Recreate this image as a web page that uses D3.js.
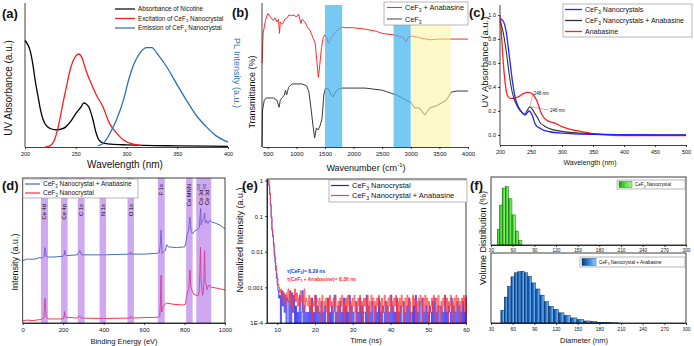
<!DOCTYPE html>
<html>
<head>
<meta charset="utf-8">
<script src="https://cdn.jsdelivr.net/npm/d3@7"></script>
<style>
  body { margin: 0; background: #fff; }
  svg { font-family: Arial, "Liberation Sans", Helvetica, sans-serif; }
</style>
</head>
<body>
<div id="wrapper"></div>
<script>
// ---- (a) absorbance / PL spectra  [wavelength nm, normalised value]
const nicotineAbs = [[200,0.75],[202,0.73],[205,0.68],[208,0.57],[210,0.47],[213,0.35],[215,0.27],[218,0.19],[221,0.15],[225,0.13],[230,0.12],[235,0.125],[240,0.14],[245,0.18],[250,0.235],[255,0.28],[258,0.31],[260,0.305],[263,0.28],[265,0.24],[267,0.19],[270,0.10],[272,0.06],[275,0.035],[278,0.025],[285,0.02],[300,0.015],[350,0.008],[400,0.005]];
const ceExcitation = [[220,0],[225,0.01],[229,0.05],[232,0.12],[235,0.22],[238,0.33],[241,0.43],[244,0.53],[247,0.6],[250,0.64],[253,0.655],[256,0.63],[260,0.54],[265,0.45],[270,0.37],[277,0.28],[283,0.17],[290,0.1],[297,0.05],[307,0.02],[315,0.01]];
const ceEmission = [[272,0.01],[277,0.025],[284,0.1],[290,0.19],[297,0.33],[302,0.47],[307,0.58],[313,0.66],[320,0.7],[325,0.7],[331,0.65],[340,0.56],[349,0.45],[359,0.33],[369,0.22],[379,0.14],[388,0.08],[400,0.035]];
const aTicks = [200, 250, 300, 350, 400];

// ---- (b) FTIR  [wavenumber cm-1, transmittance a.u.]
const ftirMix = [[400,59],[420,80],[460,89],[500,94],[550,91.5],[600,89],[630,91],[660,88],[690,90],[705,80],[720,88],[760,86.5],[800,90],[840,91],[870,93],[920,92.5],[960,93],[1000,91.5],[1040,93.5],[1060,90],[1080,87],[1100,90],[1150,88],[1200,84],[1240,82],[1290,77],[1330,73],[1360,60],[1385,49],[1410,58],[1440,70],[1470,77],[1500,79],[1530,77],[1560,73],[1590,75.5],[1620,77.5],[1680,81],[1740,83],[1790,84.5],[1850,84],[2000,84],[2200,83],[2400,81.5],[2500,80],[2700,79],[2800,78],[2870,77],[2920,74],[2950,77],[3000,78],[3050,78],[3200,76.5],[3350,75.5],[3500,76],[3650,76],[4000,76]];
const ftirCe = [[400,0],[410,26],[440,33],[475,34.5],[600,34.5],[660,33],[700,28],[720,33],[760,35],[790,36.6],[810,40],[830,36.6],[865,42],[920,44.4],[1100,44.4],[1180,43],[1220,38.7],[1260,26],[1290,15.5],[1320,6.3],[1350,13.4],[1380,12],[1420,15.5],[1450,20.4],[1480,36.6],[1510,41.5],[1560,40.8],[1600,37.3],[1640,35.2],[1680,38.7],[1740,40.8],[1800,41.5],[2200,41.5],[2500,40],[2750,36.6],[2920,33],[3010,31],[3070,27.5],[3150,27.5],[3245,22.5],[3330,27.5],[3450,29],[3620,33],[3710,38.7],[3800,39.4],[4000,39.4]];
const blueBands = [[1500,1800],[2700,3000]];
const yellowBands = [[3000,3700]];
const bTicks = [500,1000,1500,2000,2500,3000,3500,4000];

// ---- (c) UV-vis  [wavelength nm, absorbance]
const uvCe = [[200,0.97],[205,0.95],[210,0.86],[215,0.66],[220,0.45],[225,0.3],[230,0.23],[235,0.19],[240,0.165],[244,0.185],[247,0.2],[250,0.185],[253,0.15],[256,0.1],[260,0.07],[265,0.055],[270,0.04],[280,0.027],[300,0.015],[350,0.005],[400,0.002],[500,0]];
const uvCeAna = [[200,0.95],[205,0.86],[210,0.7],[215,0.5],[220,0.35],[225,0.27],[230,0.22],[235,0.19],[240,0.175],[244,0.205],[248,0.235],[252,0.215],[256,0.18],[261,0.14],[265,0.1],[270,0.08],[275,0.065],[285,0.045],[300,0.03],[350,0.01],[400,0.003],[500,0]];
const uvAna = [[200,1.0],[202,0.87],[204,0.7],[207,0.5],[210,0.37],[213,0.32],[217,0.305],[222,0.305],[230,0.32],[238,0.345],[245,0.355],[250,0.35],[255,0.325],[260,0.28],[265,0.2],[270,0.15],[275,0.125],[290,0.095],[300,0.07],[315,0.045],[330,0.03],[350,0.012],[375,0],[400,-0.005],[500,-0.005]];
const uvPeaks = [{label: "248 nm", from: [248.5, 0.24], to: [253, 0.35]}, {label: "246 nm", from: [251.5, 0.233], to: [279, 0.208]}];
const cTicksX = [200,250,300,350,400,450,500];
const cTicksY = [0,0.2,0.4,0.6,0.8,1.0];

// ---- (d) XPS  [binding energy eV, intensity a.u.]
const xpsCeAna = [[0,43],[20,44],[40,44],[60,44],[80,45],[100,45],[106,46],[110,52],[113,50],[116,46],[125,45.5],[150,45.5],[200,46],[205,47],[208,50],[211,47],[220,46.5],[270,47],[278,49],[282,50],[288,47.5],[300,47],[400,47],[530,47.5],[533,49],[536,47.5],[600,47.5],[660,48],[675,48.5],[680,54],[684,64],[686,57],[688,48],[695,49],[705,50],[712,54],[720,52.5],[760,52],[800,52.5],[806,54.5],[812,61],[818,63],[823,68],[826,73],[829,68],[833,63],[840,61.5],[850,63.5],[860,64],[868,65],[873,66],[877,74],[880,79],[882,67.5],[886,69.5],[890,71],[895,72],[899,76],[903,69],[908,71],[915,68.5],[925,71],[935,69.5],[950,69],[975,67.5],[1000,65]];
const xpsCe = [[0,1.4],[20,2],[50,1.7],[90,2.4],[105,3.4],[108,12.4],[111,17],[113,12.4],[116,4],[125,2.8],[200,2.8],[205,4.8],[207,8],[210,4],[270,3.4],[280,5],[290,3.4],[400,3.1],[530,3.4],[533,4.8],[536,3.4],[670,4],[678,4.8],[681,16],[684,33],[686,12.4],[688,7.6],[692,11],[700,12.4],[710,13.8],[740,13],[790,12.4],[805,13],[810,18],[815,21.4],[820,23],[824,29.6],[827,36.6],[830,26],[835,23],[845,20],[860,19],[868,19],[872,21.4],[876,36.6],[879,52.4],[882,29.6],[886,22.8],[889,19],[893,22],[896,29.6],[899,50],[902,28],[906,27.5],[911,23],[916,25],[922,26.2],[930,24.8],[960,24],[1000,22.8]];
const xpsBands = [[90,125,"Ce 4d"],[190,222,"Ce 4p"],[272,306,"C 1s"],[380,412,"N 1s"],[518,550,"O 1s"],[668,702,"F 1s"],[808,840,"Ce MNN"],[858,932,""]];
const dTicks = [0,200,400,600,800,1000];

// ---- (e) TRPL decay  [time ns, normalised intensity]; tail as counts x1e-4
const decayT = [7.6,7.8,8.0,8.2,8.4,8.6,8.8,9.0,9.2,9.4,9.6,9.8,10.0,10.2,10.4];
const decayCe = [1.0,0.7,0.4,0.2,0.09,0.04,0.026,0.015,0.008,0.005,0.003,0.0018,0.0012,0.0008,0.0005];
const decayCeAna = [1.0,0.75,0.45,0.22,0.1,0.045,0.03,0.018,0.01,0.007,0.004,0.0025,0.0018,0.0012,0.001];
const tailStart = 10.6, tailStep = 0.25;
const tailCe =    "6183726154181726131216128131212131512161312141213115121312612131412151312161312114121513122161312141131215121321413121613121512131141213151221316121411512131213214151213113121612132151312141312141216";
const tailCeAna = "7958463759483625947353846293543625143625425316243525163425363142536241526314253624153624153526142635142536415236241536242536141526341526354126351425364152635142352641526314253625143624152635241536251";
const eTicksY = [1, 0.1, 0.01, 0.001, 1e-4];
const eTickLabels = ["1", "0.1", "0.01", "0.001", "1E-4"];

// ---- (f) DLS size distribution  [diameter nm, volume %]
const dlsCe = [[40.3,8],[43.4,20.5],[47.5,29.3],[52.1,30],[56.7,23.8],[61.3,15.5],[65.9,7.2],[70.5,2.2]];
const dlsCeAna = [[46,2.5],[50.7,5.1],[55.3,7.2],[60,9.1],[64.6,9.9],[69.2,10.1],[73.8,10.2],[78.4,9.9],[83.5,9.2],[89,7.9],[95,6.7],[100.5,5.5],[106.5,4.2],[113.4,3.3],[120.3,2.7],[127.2,2.0],[135,1.5],[144.3,1.0],[153.5,0.7],[162.7,0.4],[172,0.3],[181,0.15],[191,0.07],[202,0.03]];
const fTicks = [30,60,90,120,150,180,210,240,270,300];

const svg = d3.select("#wrapper").append("svg").attr("width", 694).attr("height", 346);

// text with _{sub} and ^{sup} markup
function rich(t, str) {
  const fs = parseFloat(t.attr("font-size"));
  let shift = 0;
  str.split(/([_^]\{[^}]*\})/).filter(p => p).forEach(p => {
    let off = 0, txt = p, size = fs;
    if (p[0] === "_") { off = fs * 0.28; txt = p.slice(2, -1); size = fs * 0.68; }
    if (p[0] === "^") { off = -fs * 0.4; txt = p.slice(2, -1); size = fs * 0.68; }
    t.append("tspan").attr("dy", off - shift).attr("font-size", size).text(txt);
    shift = off;
  });
  return t;
}

function label(x, y, str, fs, o = {}) {
  const t = svg.append("text").attr("x", x).attr("y", y).attr("font-size", fs)
    .attr("text-anchor", o.anchor || "start").attr("fill", o.fill || "#111");
  if (o.rotate) t.attr("transform", `rotate(${o.rotate},${x},${y})`);
  if (o.bold) t.attr("font-weight", "bold");
  return rich(t, str);
}

function styleAxis(g, fs) {
  g.attr("font-size", fs).attr("font-family", null);
  g.selectAll("path, line").attr("stroke", "#111").attr("stroke-width", 0.8);
  g.selectAll("text").attr("fill", "#111");
}

function drawLine(x, y, data, color, width, curve) {
  svg.append("path")
    .attr("d", d3.line().x(d => x(d[0])).y(d => y(d[1])).curve(curve || d3.curveMonotoneX)(data))
    .attr("fill", "none").attr("stroke", color).attr("stroke-width", width)
    .attr("stroke-linejoin", "round");
}

function legendBox(x, y, w, h) {
  svg.append("rect").attr("x", x).attr("y", y).attr("width", w).attr("height", h)
    .attr("fill", "#fff").attr("stroke", "#999").attr("stroke-width", 0.7);
}

function lineLegend(x, ys, rows, fs, len, lw) {
  rows.forEach((r, i) => {
    svg.append("line").attr("x1", x).attr("x2", x + len).attr("y1", ys[i]).attr("y2", ys[i])
      .attr("stroke", r[0]).attr("stroke-width", lw);
    label(x + len + 3, ys[i] + fs * 0.35, r[1], fs);
  });
}

const plain = d3.format("d");

// ================= (a)
const aX = d3.scaleLinear().domain([200, 400]).range([25, 228]);
const aY = d3.scaleLinear().domain([0, 1]).range([147, 5]);
svg.append("g").attr("transform", "translate(0,147)")
  .call(d3.axisBottom(aX).tickValues(aTicks).tickFormat(plain).tickSize(2).tickSizeOuter(0).tickPadding(3))
  .call(styleAxis, 5.5);
svg.append("line").attr("x1", 25).attr("x2", 25).attr("y1", 3).attr("y2", 147).attr("stroke", "#111").attr("stroke-width", 0.8);
drawLine(aX, aY, nicotineAbs, "#000", 1.3);
drawLine(aX, aY, ceExcitation, "#ff1a1a", 1.3);
drawLine(aX, aY, ceEmission, "#2e6fb5", 1.3);
lineLegend(115, [9, 18.5, 28], [["#000", "Absorbance of Nicotine"], ["#ff1a1a", "Excitation of CeF_{3} Nanocrystal"], ["#2e6fb5", "Emission of CeF_{3} Nanocrystal"]], 6.3, 20, 1.2);
label(12, 88, "UV Absorbance (a.u.)", 10, {anchor: "middle", rotate: -90});
label(125, 168, "Wavelength (nm)", 10, {anchor: "middle"});
label(234, 73, "PL Intensity (a.u.)", 9, {anchor: "middle", rotate: 90, fill: "#2e75b6"});

// ================= (b)
const bX = d3.scaleLinear().domain([400, 4000]).range([262, 468]);
const bY = d3.scaleLinear().domain([0, 100]).range([147, 5]);
drawLine(bX, bY, ftirMix, "#ff2a2a", 1, d3.curveLinear);
drawLine(bX, bY, ftirCe, "#3a3a3a", 1, d3.curveLinear);
blueBands.forEach(b => svg.append("rect").attr("x", bX(b[0])).attr("width", bX(b[1]) - bX(b[0]))
  .attr("y", 5).attr("height", 142).attr("fill", "#48b6f2").attr("opacity", 0.75));
yellowBands.forEach(b => svg.append("rect").attr("x", bX(b[0])).attr("width", bX(b[1]) - bX(b[0]))
  .attr("y", 5).attr("height", 142).attr("fill", "#fbf49a").attr("opacity", 0.55));
svg.append("g").attr("transform", "translate(0,147)")
  .call(d3.axisBottom(bX).tickValues(bTicks).tickFormat(plain).tickSize(2).tickSizeOuter(0).tickPadding(3))
  .call(styleAxis, 6);
svg.append("line").attr("x1", 262).attr("x2", 262).attr("y1", 3).attr("y2", 147).attr("stroke", "#111").attr("stroke-width", 0.8);
legendBox(384, 2, 84, 23);
lineLegend(387, [7.5, 19], [["#ff2a2a", "CeF_{3} + Anabasine"], ["#555", "CeF_{3}"]], 7.3, 15, 1.1);
label(255, 92, "Transmittance (%)", 9, {anchor: "middle", rotate: -90});
label(366, 171, "Wavenumber (cm^{-1})", 9, {anchor: "middle"});

// ================= (c)
const cX = d3.scaleLinear().domain([200, 500]).range([500, 686]);
const cY = d3.scaleLinear().domain([0, 1]).range([135, 15]);
svg.append("g").attr("transform", "translate(0,145)")
  .call(d3.axisBottom(cX).tickValues(cTicksX).tickFormat(plain).tickSize(2).tickSizeOuter(0).tickPadding(3))
  .call(styleAxis, 5.5);
svg.append("g").attr("transform", "translate(500,0)")
  .call(d3.axisLeft(cY).tickValues(cTicksY).tickFormat(d3.format(".1f")).tickSize(2).tickPadding(2))
  .call(styleAxis, 5.5)
  .call(g => g.select(".domain").remove());
svg.append("line").attr("x1", 500).attr("x2", 500).attr("y1", 5).attr("y2", 145).attr("stroke", "#111").attr("stroke-width", 0.8);
drawLine(cX, cY, uvAna, "#ff2020", 1.3);
drawLine(cX, cY, uvCeAna, "#333", 1.1);
drawLine(cX, cY, uvCe, "#2424ff", 1.3);
uvPeaks.forEach(p => {
  svg.append("line").attr("x1", cX(p.from[0])).attr("y1", cY(p.from[1])).attr("x2", cX(p.to[0])).attr("y2", cY(p.to[1]))
    .attr("stroke", "#777").attr("stroke-width", 0.5);
  label(cX(p.to[0]) + 1, cY(p.to[1]) + 1.5, p.label, 4.5);
});
legendBox(563, 4, 129, 33);
lineLegend(565, [9.5, 20.5, 31.5], [["#2424ff", "CeF_{3} Nanocrystals"], ["#333", "CeF_{3} Nanocrystals + Anabasine"], ["#ff2020", "Anabasine"]], 7, 17, 1.3);
label(488, 62, "UV Absorbance (a.u.)", 9.5, {anchor: "middle", rotate: -90});
label(590, 165, "Wavelength (nm)", 7, {anchor: "middle"});

// ================= (d)
const dX = d3.scaleLinear().domain([0, 1000]).range([22.7, 225]);
const dY = d3.scaleLinear().domain([0, 100]).range([323, 178]);
drawLine(dX, dY, xpsCeAna, "#2f5fb0", 0.9, d3.curveLinear);
drawLine(dX, dY, xpsCe, "#ff1838", 0.9, d3.curveLinear);
xpsBands.forEach(b => svg.append("rect").attr("x", dX(b[0])).attr("width", dX(b[1]) - dX(b[0]))
  .attr("y", 178).attr("height", 145).attr("fill", "#a860e8").attr("opacity", 0.55));
xpsBands.forEach((b, i) => {
  if (!b[2]) return;
  label(dX((b[0] + b[1]) / 2) + 2, i < 5 ? 204 : 184, b[2], 5.8, {anchor: "end", rotate: -90});
});
label(dX(880) + 2, 184, "Ce 3d^{5/2}", 5.8, {anchor: "end", rotate: -90});
label(dX(910) + 2, 184, "Ce 3d^{3/2}", 5.8, {anchor: "end", rotate: -90});
svg.append("rect").attr("x", 22.7).attr("y", 178).attr("width", 225 - 22.7).attr("height", 145)
  .attr("fill", "none").attr("stroke", "#111").attr("stroke-width", 0.8);
svg.append("g").attr("transform", "translate(0,323)")
  .call(d3.axisBottom(dX).tickValues(dTicks).tickFormat(plain).tickSize(2).tickSizeOuter(0).tickPadding(3))
  .call(styleAxis, 6);
legendBox(23, 179, 115, 19);
lineLegend(25, [184, 193], [["#2f5fb0", "CeF_{3} Nanocrystal + Anabasine"], ["#ff1838", "CeF_{3} Nanocrystal"]], 6.5, 15, 1.1);
label(18, 262, "Intensity (a.u.)", 9, {anchor: "middle", rotate: -90});
label(124, 344, "Binding Energy (eV)", 7.5, {anchor: "middle"});

// ================= (e)
const eX = d3.scaleLinear().domain([7.3, 60]).range([267, 466]);
const eY = d3.scaleLog().domain([1e-4, 1.1]).range([323, 179]).clamp(true);
function decaySeries(head, tail) {
  const pts = decayT.map((t, i) => [t, head[i]]);
  tail.split("").forEach((c, i) => pts.push([tailStart + i * tailStep, Math.max(+c, 1) * 1e-4]));
  return pts;
}
drawLine(eX, eY, decaySeries(decayCe, tailCe), "#1a1aff", 0.8, d3.curveStepAfter);
drawLine(eX, eY, decaySeries(decayCeAna, tailCeAna), "#ff3838", 0.8, d3.curveStepAfter);
svg.append("rect").attr("x", 267).attr("y", 179).attr("width", 199).attr("height", 144)
  .attr("fill", "none").attr("stroke", "#111").attr("stroke-width", 0.8);
svg.append("g").attr("transform", "translate(0,323)")
  .call(d3.axisBottom(eX).tickValues([10,20,30,40,50,60]).tickSize(2).tickSizeOuter(0).tickPadding(3))
  .call(styleAxis, 6);
svg.append("g").attr("transform", "translate(267,0)")
  .call(d3.axisLeft(eY).tickValues(eTicksY).tickFormat((d, i) => eTickLabels[i]).tickSize(2).tickSizeOuter(0).tickPadding(2))
  .call(styleAxis, 6);
legendBox(329, 180, 138, 22);
lineLegend(331, [185.5, 195.5], [["#1a1aff", "CeF_{3} Nanocrystal"], ["#ff3838", "CeF_{3} Nanocrystal + Anabasine"]], 7.5, 18, 1.2);
label(287, 272.5, "τ(CeF_{3})= 8.29 ns", 5, {fill: "#2a2aff", bold: true});
label(287, 281, "τ(CeF_{3} + Anabasine)= 8.36 ns", 5, {fill: "#ff3030", bold: true});
label(243, 240, "Normalized Intensity (a.u.)", 9, {anchor: "middle", rotate: -90});
label(366, 343, "Time (ns)", 7.5, {anchor: "middle"});

// ================= (f)
const defs = svg.append("defs");
function grad(id, stops) {
  const g = defs.append("linearGradient").attr("id", id).attr("x1", 0).attr("x2", 1).attr("y1", 0).attr("y2", 0);
  stops.forEach(s => g.append("stop").attr("offset", s[0]).attr("stop-color", s[1]));
}
grad("gGreen", [[0, "#1f9a14"], [0.45, "#4fe03a"], [1, "#a8f793"]]);
grad("gBlue", [[0, "#0b3a86"], [0.55, "#3a8be0"], [1, "#8fd7fb"]]);
const fX = d3.scaleLinear().domain([30, 300]).range([491, 686]);
const fYt = d3.scaleLinear().domain([0, 35]).range([245, 177]);
const fYb = d3.scaleLinear().domain([0, 13.8]).range([323, 253]);
function bars(data, y, fill, stroke) {
  data.forEach((d, i) => {
    const prev = data[i - 1] ? data[i - 1][0] : 2 * d[0] - data[i + 1][0];
    const next = data[i + 1] ? data[i + 1][0] : 2 * d[0] - prev;
    const x0 = fX((prev + d[0]) / 2), x1 = fX((d[0] + next) / 2);
    svg.append("rect").attr("x", x0).attr("width", x1 - x0).attr("y", y(d[1])).attr("height", y(0) - y(d[1]))
      .attr("fill", fill).attr("stroke", stroke).attr("stroke-width", 0.5);
  });
}
bars(dlsCe, fYt, "url(#gGreen)", "#145a0c");
bars(dlsCeAna, fYb, "url(#gBlue)", "#0a2350");
[[177, 245], [253, 323]].forEach(r => svg.append("rect").attr("x", 491).attr("y", r[0]).attr("width", 195).attr("height", r[1] - r[0])
  .attr("fill", "none").attr("stroke", "#111").attr("stroke-width", 0.8));
svg.append("g").attr("transform", "translate(0,245)")
  .call(d3.axisBottom(fX).tickValues(fTicks).tickSize(2).tickSizeOuter(0).tickPadding(2))
  .call(styleAxis, 4.8);
svg.append("g").attr("transform", "translate(0,323)")
  .call(d3.axisBottom(fX).tickValues(fTicks).tickSize(2).tickSizeOuter(0).tickPadding(3))
  .call(styleAxis, 4.8);
legendBox(617, 180, 68, 9);
svg.append("rect").attr("x", 619).attr("y", 181.5).attr("width", 13).attr("height", 6).attr("fill", "url(#gGreen)").attr("stroke", "#145a0c").attr("stroke-width", 0.4);
label(635, 186.3, "CeF_{3} Nanocrystal", 4.6);
legendBox(580, 257, 105, 10);
svg.append("rect").attr("x", 582).attr("y", 258.5).attr("width", 14).attr("height", 7).attr("fill", "url(#gBlue)").attr("stroke", "#0a2350").attr("stroke-width", 0.4);
label(599, 263.8, "CeF_{3} Nanocrystal + Anabasine", 4.6);
label(486, 238, "Volume Distribution (%)", 9, {anchor: "middle", rotate: -90});
label(584, 343, "Diameter (nm)", 7.5, {anchor: "middle"});

// panel letters
[["(a)", 2, 18], ["(b)", 232, 17], ["(c)", 469, 17], ["(d)", 2, 190], ["(e)", 242, 190], ["(f)", 470, 190]]
  .forEach(p => label(p[1], p[2], p[0], 13, {bold: true}));
</script>
</body>
</html>
